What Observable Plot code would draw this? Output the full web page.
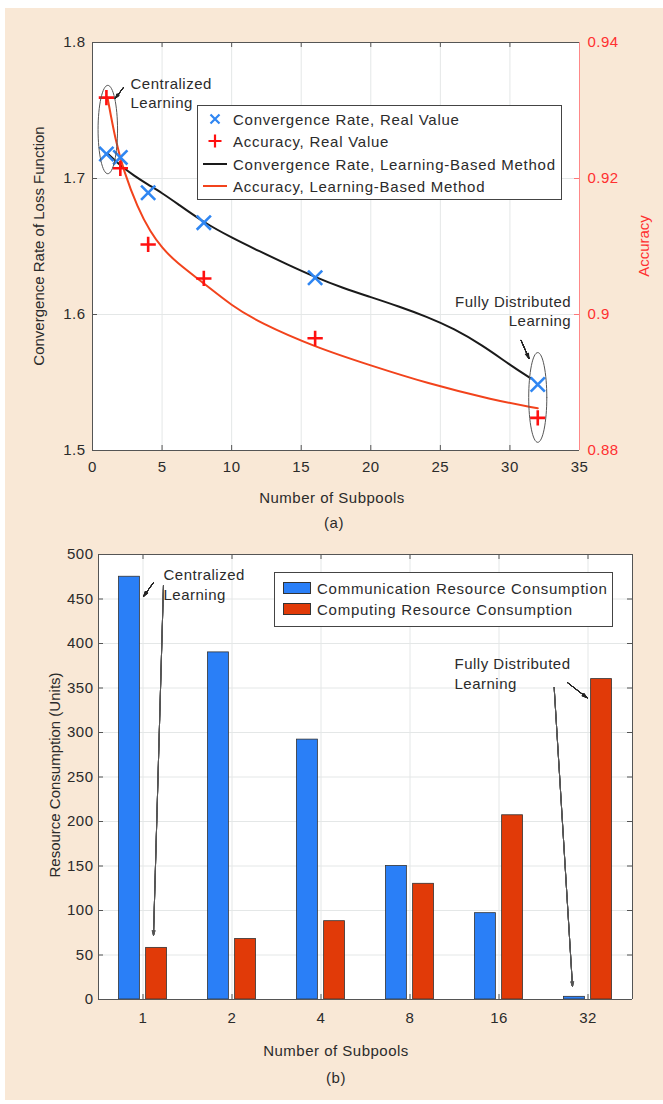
<!DOCTYPE html>
<html><head><meta charset="utf-8">
<script src="https://cdn.jsdelivr.net/npm/d3@7"></script>
<script src="https://cdn.jsdelivr.net/npm/@observablehq/plot@0.6"></script>
<style>
body{margin:0;background:#fff;}
#page{position:relative;width:663px;height:1104px;overflow:hidden;font-family:"Liberation Sans",Arial,Helvetica,sans-serif;color:#2b2b2b;}
#bg{position:absolute;left:5px;top:8px;right:0;bottom:4px;background:#f9e8d6;}
#page svg{position:absolute;left:0;}
.lbl{position:absolute;font-size:15px;letter-spacing:0.5px;white-space:nowrap;transform:translate(-50%,-50%);}
.vlbl{position:absolute;font-size:15px;white-space:nowrap;transform:translate(-50%,-50%) rotate(-90deg);}
.legend{position:absolute;background:#fff;border:1px solid #444;box-sizing:border-box;font-size:15px;letter-spacing:0.75px;}
.row{position:absolute;left:0;height:20px;display:flex;align-items:center;transform:translateY(-50%);white-space:nowrap;}
</style></head>
<body><div id="page"><div id="bg"></div></div>
<script>
// ---------------- Panel (a) data ----------------
const subpoolsA = [1, 2, 4, 8, 16, 32];
const convReal = [1.718, 1.7155, 1.6895, 1.6675, 1.627, 1.5485];
const accReal = [0.9319, 0.9215, 0.9103, 0.9053, 0.8965, 0.8848];
const convFitX = [1.08, 2, 3, 4, 5, 6, 8, 10, 12, 14, 16, 18, 20, 22, 24, 26, 28, 30, 31.5];
const convFit = [1.7184, 1.7095, 1.7020, 1.6955, 1.6893, 1.6822, 1.6676, 1.6565, 1.6465, 1.6368, 1.6275, 1.6195, 1.6128, 1.6060, 1.5985, 1.5895, 1.5775, 1.5630, 1.5530];
const accFitX = [1.08, 1.65, 2.23, 3.24, 4.17, 5, 6, 8, 10, 12, 16, 20, 24, 28.85, 32];
const accFit = [0.9319, 0.9256, 0.9212, 0.9157, 0.9121, 0.9098, 0.9077, 0.9046, 0.9013, 0.8988, 0.8952, 0.8925, 0.8899, 0.8874, 0.8862];
const xTicksA = [0, 5, 10, 15, 20, 25, 30, 35];
const convTicks = [1.5, 1.6, 1.7, 1.8];
const accTicks = [0.88, 0.90, 0.92, 0.94];
const legendA = ["Convergence Rate, Real Value", "Accuracy, Real Value", "Convergence Rate, Learning-Based Method", "Accuracy, Learning-Based Method"];

// ---------------- Panel (b) data ----------------
const subpoolsB = ["1", "2", "4", "8", "16", "32"];
const commB = [475, 390, 292, 150, 97, 3];
const compB = [58, 68, 88, 130, 207, 360];
const yTicksB = [0, 50, 100, 150, 200, 250, 300, 350, 400, 450, 500];
const legendB = ["Communication Resource Consumption", "Computing Resource Consumption"];

const FONT = '"Liberation Sans", Arial, Helvetica, sans-serif';
const TXT = "#2b2b2b", AX = "#555", GRID = "#e4e7e7";
const BLUE_M = "#2f86f2", RED_M = "#ff1010", BLACK_L = "#1a1a1a", RED_L = "#f2431c";
const BLUE_B = "#2a7ff7", RED_B = "#e13a08", ACC_AX = "#ff3030";

const page = document.getElementById("page");

// accuracy -> left y scale (shared frame, dual axis)
const toY = a => 1.5 + (a - 0.88) * 5;
const fromY = y => 0.88 + (y - 1.5) / 5;

function ellipse(cx, cy, rx, ry) {
  return d3.range(0, 65).map(k => {
    const t = k / 64 * 2 * Math.PI;
    return {x: cx + rx * Math.cos(t), y: cy + ry * Math.sin(t)};
  });
}
function filledArrow(d, stroke, sw) {
  return [0, 6, 12, 18, 24, 30, 36].map(a => Plot.arrow([d], {x1: "x1", y1: "y1", x2: "x2", y2: "y2", stroke, strokeWidth: sw, headAngle: a, headLength: 8}));
}

// ---------------- Panel (a) ----------------
const WA = 663, HA = 540;
const mA = {top: 42, left: 92, right: 84, bottom: 90};
const pwA = WA - mA.left - mA.right, phA = HA - mA.top - mA.bottom;
const realA = subpoolsA.map((x, i) => ({x, conv: convReal[i], acc: accReal[i]}));
const convFitData = convFitX.map((x, i) => ({x, y: convFit[i]}));
const accFitData = accFitX.map((x, i) => ({x, y: toY(accFit[i])}));

const plotA = Plot.plot({
  width: WA, height: HA,
  marginTop: mA.top, marginLeft: mA.left, marginRight: mA.right, marginBottom: mA.bottom,
  x: {domain: [0, 35], label: null},
  y: {domain: [1.5, 1.8], label: null},
  style: {background: "none", fontFamily: FONT, fontSize: "15px", letterSpacing: "0.5px", color: TXT, overflow: "visible"},
  marks: [
    Plot.frame({fill: "white", stroke: null}),
    Plot.gridX(xTicksA, {stroke: GRID, strokeOpacity: 1}),
    Plot.gridY(convTicks, {stroke: GRID, strokeOpacity: 1}),
    Plot.ruleX(xTicksA, {insetTop: phA - 5, stroke: AX}),
    Plot.ruleX(xTicksA, {insetBottom: phA - 5, stroke: AX}),
    Plot.ruleY(convTicks, {insetRight: pwA - 5, stroke: AX}),
    Plot.ruleY(accTicks.map(toY), {insetLeft: pwA - 5, stroke: "#f77"}),
    Plot.ruleY([1.5, 1.8], {stroke: AX}),
    Plot.ruleX([0], {stroke: AX}),
    Plot.ruleX([35], {stroke: "#f88"}),
    Plot.axisX(xTicksA, {tickSize: 0, tickPadding: 11, label: null}),
    Plot.axisY(convTicks, {tickSize: 0, tickPadding: 7, tickFormat: d3.format(".1f"), label: null}),
    Plot.axisY(accTicks.map(toY), {anchor: "right", tickSize: 0, tickPadding: 8, tickFormat: d => String(+fromY(d).toFixed(2)), color: ACC_AX, fill: ACC_AX, label: null}),
    Plot.line(convFitData, {x: "x", y: "y", stroke: BLACK_L, strokeWidth: 2, curve: "basis"}),
    Plot.line(accFitData, {x: "x", y: "y", stroke: RED_L, strokeWidth: 2, curve: "basis"}),
    Plot.dot(realA, {x: "x", y: "conv", symbol: "times", stroke: BLUE_M, r: 6.5, strokeWidth: 2.6}),
    Plot.dot(realA, {x: "x", y: d => toY(d.acc), symbol: "plus", stroke: RED_M, r: 5, strokeWidth: 2.6}),
    // annotations
    Plot.line(ellipse(1.1, 1.736, 0.7, 0.0325), {x: "x", y: "y", stroke: "#555", strokeWidth: 1}),
    Plot.line(ellipse(32.0, 1.539, 0.65, 0.033), {x: "x", y: "y", stroke: "#555", strokeWidth: 1}),
    ...filledArrow({x1: 2.23, y1: 1.767, x2: 1.65, y2: 1.759}, "#222", 1),
    ...filledArrow({x1: 30.8, y1: 1.581, x2: 31.37, y2: 1.5676}, "#222", 1),
    Plot.text([{x: 2.73, y: 1.7636, t: "Centralized\nLearning"}], {x: "x", y: "y", text: "t", textAnchor: "start", lineAnchor: "middle", lineHeight: 1.27, fill: TXT}),
    Plot.text([{x: 34.4, y: 1.603, t: "Fully Distributed\nLearning"}], {x: "x", y: "y", text: "t", textAnchor: "end", lineAnchor: "middle", lineHeight: 1.27, fill: TXT})
  ]
});
plotA.style.top = "0px";
page.appendChild(plotA);

// ---------------- Panel (b) ----------------
const WB = 663, HB = 564, topB = 540;
const mB = {top: 14, left: 98, right: 31, bottom: 105};
const pwB = WB - mB.left - mB.right, phB = HB - mB.top - mB.bottom;
const barsB = subpoolsB.map((s, k) => ({i: k + 1, s, comm: commB[k], comp: compB[k]}));
const idxB = barsB.map(d => d.i);

const plotB = Plot.plot({
  width: WB, height: HB,
  marginTop: mB.top, marginLeft: mB.left, marginRight: mB.right, marginBottom: mB.bottom,
  x: {domain: [0.5, 6.5], label: null},
  y: {domain: [0, 500], label: null},
  style: {background: "none", fontFamily: FONT, fontSize: "15px", letterSpacing: "0.5px", color: TXT, overflow: "visible"},
  marks: [
    Plot.frame({fill: "white", stroke: null}),
    Plot.gridX(idxB, {stroke: GRID, strokeOpacity: 1}),
    Plot.gridY(yTicksB, {stroke: GRID, strokeOpacity: 1}),
    Plot.rect(barsB, {x1: d => d.i - 0.27, x2: d => d.i - 0.035, y1: () => 0, y2: "comm", fill: BLUE_B, stroke: "#333", strokeWidth: 0.8}),
    Plot.rect(barsB, {x1: d => d.i + 0.035, x2: d => d.i + 0.27, y1: () => 0, y2: "comp", fill: RED_B, stroke: "#333", strokeWidth: 0.8}),
    Plot.ruleX(idxB, {insetTop: phB - 5, stroke: AX}),
    Plot.ruleX(idxB, {insetBottom: phB - 5, stroke: AX}),
    Plot.ruleY(yTicksB, {insetRight: pwB - 5, stroke: AX}),
    Plot.ruleY(yTicksB, {insetLeft: pwB - 5, stroke: AX}),
    Plot.ruleY([0, 500], {stroke: AX}),
    Plot.ruleX([0.5, 6.5], {stroke: AX}),
    Plot.axisX(idxB, {tickSize: 0, tickPadding: 13, tickFormat: i => subpoolsB[i - 1], label: null}),
    Plot.axisY(yTicksB, {tickSize: 0, tickPadding: 5, label: null}),
    // annotations
    Plot.text([{x: 1.23, y: 467, t: "Centralized\nLearning"}], {x: "x", y: "y", text: "t", textAnchor: "start", lineAnchor: "middle", lineHeight: 1.35, fill: TXT}),
    Plot.text([{x: 4.5, y: 367, t: "Fully Distributed\nLearning"}], {x: "x", y: "y", text: "t", textAnchor: "start", lineAnchor: "middle", lineHeight: 1.35, fill: TXT}),
    ...filledArrow({x1: 1.118, y1: 468.5, x2: 1.006, y2: 452.8}, "#222", 1),
    ...filledArrow({x1: 1.23, y1: 465, x2: 1.118, y2: 72}, "#555", 0.9),
    ...filledArrow({x1: 5.77, y1: 356, x2: 5.99, y2: 339}, "#222", 1),
    ...filledArrow({x1: 5.62, y1: 350.6, x2: 5.826, y2: 14.6}, "#555", 0.9)
  ]
});
plotB.style.top = topB + "px";
page.appendChild(plotB);

// ---------------- Labels ----------------
function label(text, x, y, cls, color) {
  const d = document.createElement("div");
  d.className = cls; d.textContent = text;
  d.style.left = x + "px"; d.style.top = y + "px";
  if (color) d.style.color = color;
  page.appendChild(d);
}
label("Convergence Rate of Loss Function", 38, 246, "vlbl");
label("Accuracy", 643, 246, "vlbl", ACC_AX);
label("Number of Subpools", 332, 497, "lbl");
label("(a)", 334, 522, "lbl");
label("Resource Consumption (Units)", 54, 775, "vlbl");
label("Number of Subpools", 336, 1050, "lbl");
label("(b)", 336, 1077, "lbl");

// ---------------- Legends ----------------
function legendBox(x, y, w, h, rows) {
  const box = document.createElement("div");
  box.className = "legend";
  Object.assign(box.style, {left: x + "px", top: y + "px", width: w + "px", height: h + "px"});
  rows.forEach(r => {
    const row = document.createElement("div");
    row.className = "row";
    row.style.top = r.cy + "px";
    row.style.left = r.kx + "px";
    row.innerHTML = r.key + `<span style="margin-left:${r.gap}px">${r.text}</span>`;
    box.appendChild(row);
  });
  page.appendChild(box);
}
const keysA = [
  `<svg width="24" height="20" style="position:static"><path d="M7.5,5.5L16.5,14.5M16.5,5.5L7.5,14.5" stroke="${BLUE_M}" stroke-width="2.2"/></svg>`,
  `<svg width="24" height="20" style="position:static"><path d="M12,3.5V16.5M5.5,10H18.5" stroke="${RED_M}" stroke-width="2.2"/></svg>`,
  `<svg width="24" height="20" style="position:static"><path d="M0,10H24" stroke="${BLACK_L}" stroke-width="2"/></svg>`,
  `<svg width="24" height="20" style="position:static"><path d="M0,10H24" stroke="${RED_L}" stroke-width="2"/></svg>`
];
const rowYA = [13, 35, 58, 80];
legendBox(197, 105, 365, 95, legendA.map((t, k) => ({text: t, key: keysA[k], cy: rowYA[k], kx: 5, gap: 6})));
const keysB = [BLUE_B, RED_B].map(c => `<span style="display:inline-block;width:28px;height:12px;background:${c};border:1px solid #333;box-sizing:border-box"></span>`);
const rowYB = [15, 36];
legendBox(274, 572, 339, 55, legendB.map((t, k) => ({text: t, key: keysB[k], cy: rowYB[k], kx: 8, gap: 6})));
</script>
</body></html>
